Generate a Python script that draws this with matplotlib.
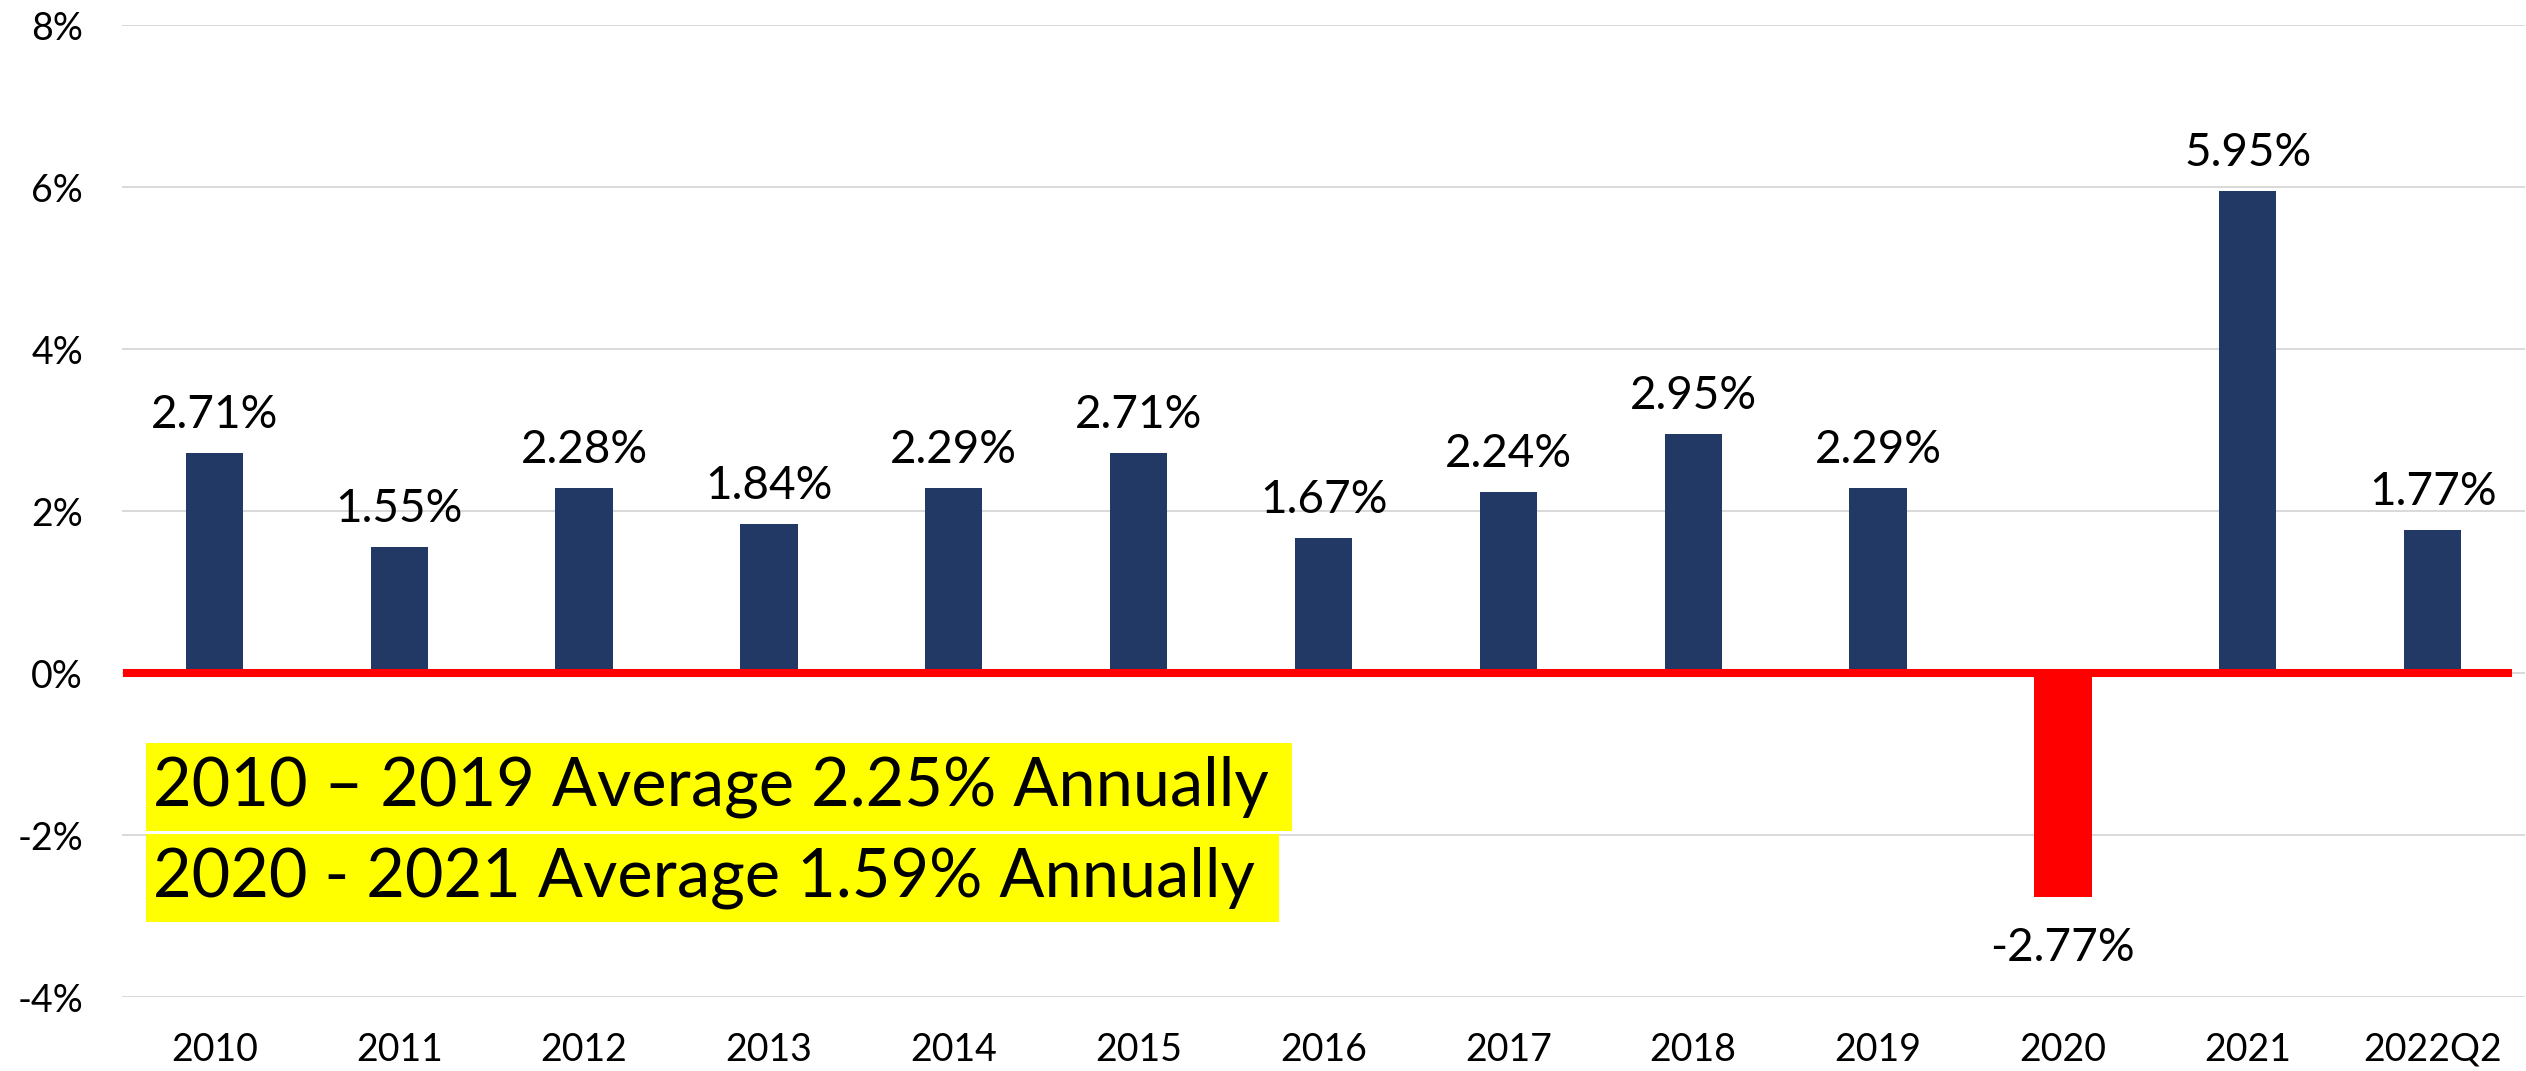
import matplotlib
matplotlib.use('Agg')  # no display
import matplotlib.pyplot as plt

plt.rcParams['font.family'] = ['Lato', 'DejaVu Sans']

# data
years = ['2010', '2011', '2012', '2013', '2014', '2015', '2016',
         '2017', '2018', '2019', '2020', '2021', '2022Q2']
growth = [2.71, 1.55, 2.28, 1.84, 2.29, 2.71, 1.67,
          2.24, 2.95, 2.29, -2.77, 5.95, 1.77]
y_ticks = [-4, -2, 0, 2, 4, 6, 8]
y_tick_labels = ['-4%', '-2%', '0%', '2%', '4%', '6%', '8%']
notes = ['2010 \u2013 2019 Average 2.25% Annually ',
         '2020 - 2021 Average 1.59% Annually ']

NAVY = '#213964'
RED = '#FF0000'

fig = plt.figure(figsize=(25.26, 10.71), dpi=100)
ax = fig.add_axes([122 / 2526, 1 - 997 / 1071, 2403 / 2526, 972 / 1071])

x = range(len(years))
colors = [RED if v < 0 else NAVY for v in growth]
ax.bar(x, growth, width=0.31, color=colors, zorder=2)

# value labels
for i, v in enumerate(growth):
    if v >= 0:
        ax.annotate(f'{v:.2f}%', (i, v), xytext=(0, 18), textcoords='offset points',
                    ha='center', va='baseline', fontsize=33)
    else:
        ax.annotate(f'{v:.2f}%', (i, v), xytext=(0, -46), textcoords='offset points',
                    ha='center', va='baseline', fontsize=33)

# red zero line on top of the bars
ax.axhline(0, xmin=0.002, xmax=0.993, color=RED, lw=5.8, zorder=3)

ax.set_xlim(-0.5, len(years) - 0.5)
ax.set_ylim(-4, 8)
ax.set_yticks(y_ticks)
ax.set_yticklabels(y_tick_labels)
ax.set_xticks(list(x))
ax.set_xticklabels(years)
ax.tick_params(axis='both', length=0, labelsize=27)
ax.tick_params(axis='y', pad=28)
ax.tick_params(axis='x', pad=25)
ax.grid(axis='y', color='#D9D9D9', lw=1.4, zorder=0)
ax.set_axisbelow(True)
for s in ax.spines.values():
    s.set_visible(False)

# yellow highlighted notes (taller vertical padding via mutation_aspect)
box = dict(boxstyle='square,pad=0.1', mutation_aspect=1.85,
           facecolor='#FFFF00', edgecolor='none')
ax.text(31 / 2403, (997 - 787) / 972, notes[0], transform=ax.transAxes,
        fontsize=48, va='center', ha='left', bbox=box, zorder=4)
ax.text(31 / 2403, (997 - 878) / 972, notes[1], transform=ax.transAxes,
        fontsize=48, va='center', ha='left', bbox=box, zorder=4)

fig.savefig('out.png', dpi=100)
